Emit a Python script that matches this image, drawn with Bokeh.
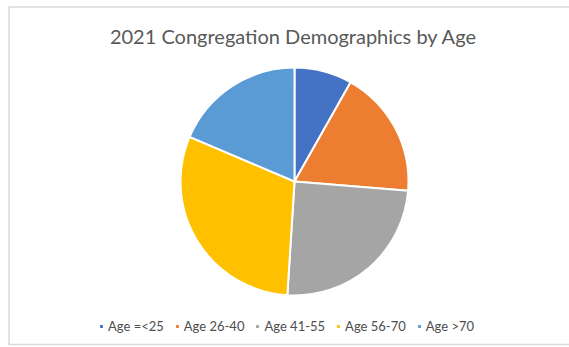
import math
from bokeh.plotting import figure
from bokeh.models import Range1d, Legend, LegendItem, ColumnDataSource
from bokeh.core.properties import value
from bokeh.embed import file_html
from bokeh.resources import INLINE

# ---- data ----
title_text = "2021 Congregation Demographics by Age"
categories = ["Age =<25", "Age 26-40", "Age 41-55", "Age 56-70", "Age >70"]
values = [8.2, 18.1, 24.7, 30.4, 18.6]
colors = ["#4472C4", "#ED7D31", "#A5A5A5", "#FFC000", "#5B9BD5"]

W, H = 569, 347
FONT = "Lato"

total = sum(values)
starts, ends = [], []
cum = 0.0
for v in values:
    a0 = math.pi / 2 - 2 * math.pi * (cum + v) / total
    a1 = math.pi / 2 - 2 * math.pi * cum / total
    starts.append(a0)
    ends.append(a1)
    cum += v

src = ColumnDataSource(dict(cat=categories, val=values, color=colors,
                            start=starts, end=ends))

p = figure(width=W, height=H, output_backend="svg", toolbar_location=None,
           x_range=Range1d(0, W), y_range=Range1d(0, H), min_border=0)
p.axis.visible = False
p.grid.visible = False
p.outline_line_color = None
p.background_fill_color = "white"

# chart border
p.quad(left=[8.5], right=[W + 5], top=[H - 6.5], bottom=[H - 344], fill_color=None,
       line_color="#d9d9d9", line_width=1.5)

cx, cy, r = 294, H - 181, 114
wr = p.wedge(x=cx, y=cy, radius=r, start_angle="start", end_angle="end",
             fill_color="color", line_color="white", line_width=2, source=src)

p.text(x=[293], y=[H - 35], text=[title_text], text_font=value(FONT),
       text_font_size="20px", text_color="#595959", text_align="center",
       text_baseline="middle")

items = [LegendItem(label=c, renderers=[wr], index=i) for i, c in enumerate(categories)]
legend = Legend(items=items, orientation="horizontal", location=(98, 13),
                glyph_width=6, glyph_height=6, label_text_font=FONT,
                label_text_font_size="13px", label_text_color="#4d4d4d",
                label_standoff=4, spacing=10, padding=0, margin=0,
                border_line_color=None, background_fill_alpha=0,
                label_height=12)
p.add_layout(legend, "center")

open("out.html", "w").write(file_html(p, INLINE))
